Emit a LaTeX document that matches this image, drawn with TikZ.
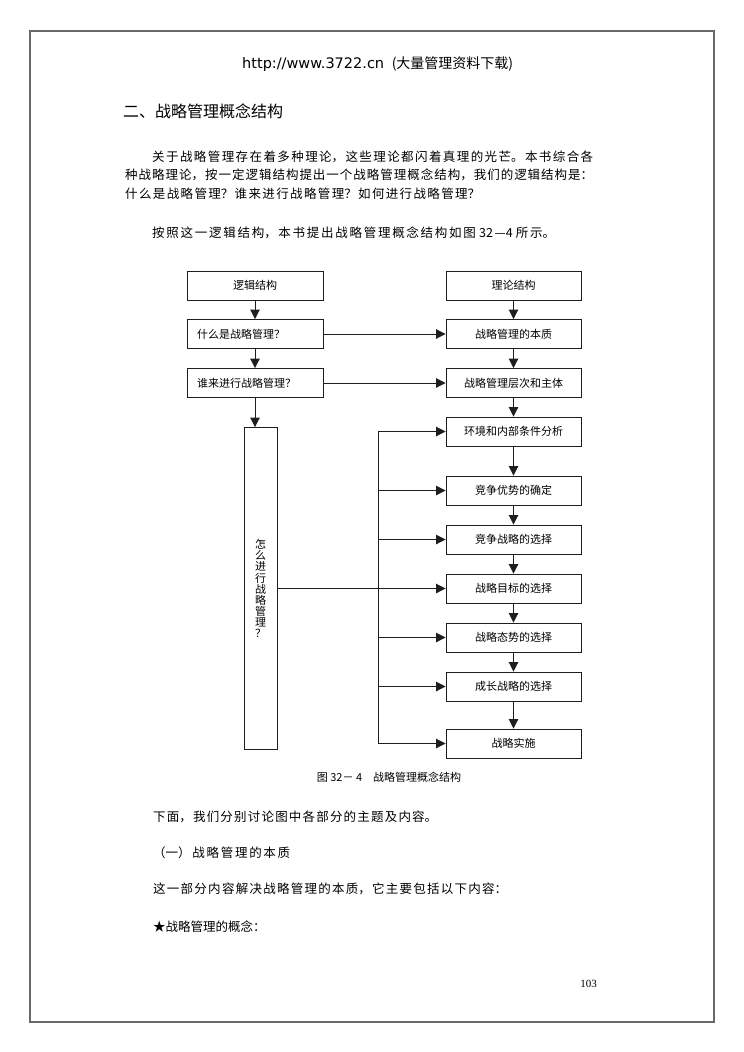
\documentclass[tikz,border=0pt]{standalone}
\usepackage{fontspec}
\setmainfont{Liberation Serif}
\newfontfamily\cjk{Noto Sans CJK SC}
\newfontfamily\verd{DejaVu Sans}
\usetikzlibrary{arrows.meta}
\definecolor{framegray}{RGB}{105,105,105}
\definecolor{linegray}{RGB}{30,30,30}
\newcommand{\jline}[2]{\parbox{#1}{\cjk\XeTeXlinebreaklocale "zh"\XeTeXlinebreakskip=0pt plus 6pt\relax\parfillskip=0pt\relax #2}}
\begin{document}
\begin{tikzpicture}[x=1pt,y=-1pt,
  box/.style={draw=linegray, line width=0.9pt, minimum width=135pt, minimum height=29pt, inner sep=0pt, font=\cjk\fontsize{11}{13}\selectfont},
  lbox/.style={box, minimum width=136pt, text width=116pt, align=left},
  tallbox/.style={draw=linegray, line width=0.9pt, minimum width=33pt, minimum height=322pt, inner sep=0pt, align=center, font=\cjk\fontsize{11}{11.1}\selectfont},
  arr/.style={-{Triangle[length=9.5pt,width=9.5pt]}, line width=0.9pt, draw=linegray},
  ln/.style={line width=0.9pt, draw=linegray},
  body/.style={anchor=west, inner sep=0pt, font=\cjk\fontsize{12.5}{15}\selectfont}
]
\useasboundingbox (0,0) rectangle (744,1052);
\draw[draw=framegray, line width=1.5pt] (30,31) rectangle (714,1022);

% header and text
\node[anchor=west, inner sep=0pt] (hdr) at (242,64) {\verd\fontsize{14.5}{16}\selectfont http://www.3722.cn\hspace{3pt} {\cjk\fontsize{14}{16}\selectfont (大量管理资料下载)}};
\node[anchor=west, inner sep=0pt, font=\cjk\fontsize{16}{18}\selectfont] (h2) at (123,111) {二、战略管理概念结构};
\node[body] (p1) at (152,157) {\jline{441pt}{关于战略管理存在着多种理论，这些理论都闪着真理的光芒。本书综合各}};
\node[body] (p2) at (125,175) {\jline{468pt}{种战略理论，按一定逻辑结构提出一个战略管理概念结构，我们的逻辑结构是：}};
\node[body] (p3) at (125,194) {\jline{355pt}{什么是战略管理？谁来进行战略管理？如何进行战略管理？}};
\node[body] (p4) at (152,233) {\jline{403pt}{按照这一逻辑结构，本书提出战略管理概念结构如图 32—4 所示。}};
\node[body] (q1) at (153,817) {\jline{284pt}{下面，我们分别讨论图中各部分的主题及内容。}};
\node[body] (q2) at (153,853) {\jline{137pt}{（一）战略管理的本质}};
\node[body] (q3) at (153,889) {\jline{354pt}{这一部分内容解决战略管理的本质，它主要包括以下内容：}};
\node[body] (q4) at (153,927) {★战略管理的概念：};
\node[anchor=east, inner sep=0pt, font=\fontsize{11}{13}\selectfont] (pg) at (597,984) {103};

% diagram: left column
\node[box, minimum width=136pt] (l0) at (255,285.5) {逻辑结构};
\node[lbox] (l1) at (255,334) {什么是战略管理？};
\node[lbox] (l2) at (255,383) {谁来进行战略管理？};
\node[tallbox] (tall) at (260.5,588.5) {怎\\么\\进\\行\\战\\略\\管\\理\\？};

% right column
\node[box] (r0) at (513.5,285.5) {理论结构};
\node[box] (r1) at (513.5,334) {战略管理的本质};
\node[box] (r2) at (513.5,383) {战略管理层次和主体};
\node[box] (r3) at (513.5,431.5) {环境和内部条件分析};
\node[box] (r4) at (513.5,490.5) {竞争优势的确定};
\node[box] (r5) at (513.5,539.5) {竞争战略的选择};
\node[box] (r6) at (513.5,588.5) {战略目标的选择};
\node[box] (r7) at (513.5,637.5) {战略态势的选择};
\node[box] (r8) at (513.5,686.5) {成长战略的选择};
\node[box] (r9) at (513.5,743.5) {战略实施};

\node[inner sep=0pt, font=\cjk\fontsize{11}{13}\selectfont] (cap) at (389,777) {图 32－ 4\quad 战略管理概念结构};

% connectors
\draw[arr] (l0) -- (l1);
\draw[arr] (l1) -- (l2);
\draw[arr] (l2.south) -- (tall.north -| l2.south);
\draw[arr] (l1) -- (r1);
\draw[arr] (l2) -- (r2);
\foreach \a/\b in {r0/r1,r1/r2,r2/r3,r3/r4,r4/r5,r5/r6,r6/r7,r7/r8,r8/r9}
  \draw[arr] (\a) -- (\b);
\coordinate (bt) at (378,431.5);
\coordinate (bb) at (378,743.5);
\draw[ln] (bt) -- (bb);
\draw[arr] (bt) -- (r3);
\foreach \r in {r4,r5,r7,r8}
  \draw[arr] (bt |- \r) -- (\r);
\draw[arr] (bb) -- (r9);
\draw[arr] (tall) -- (r6);
\end{tikzpicture}
\end{document}
